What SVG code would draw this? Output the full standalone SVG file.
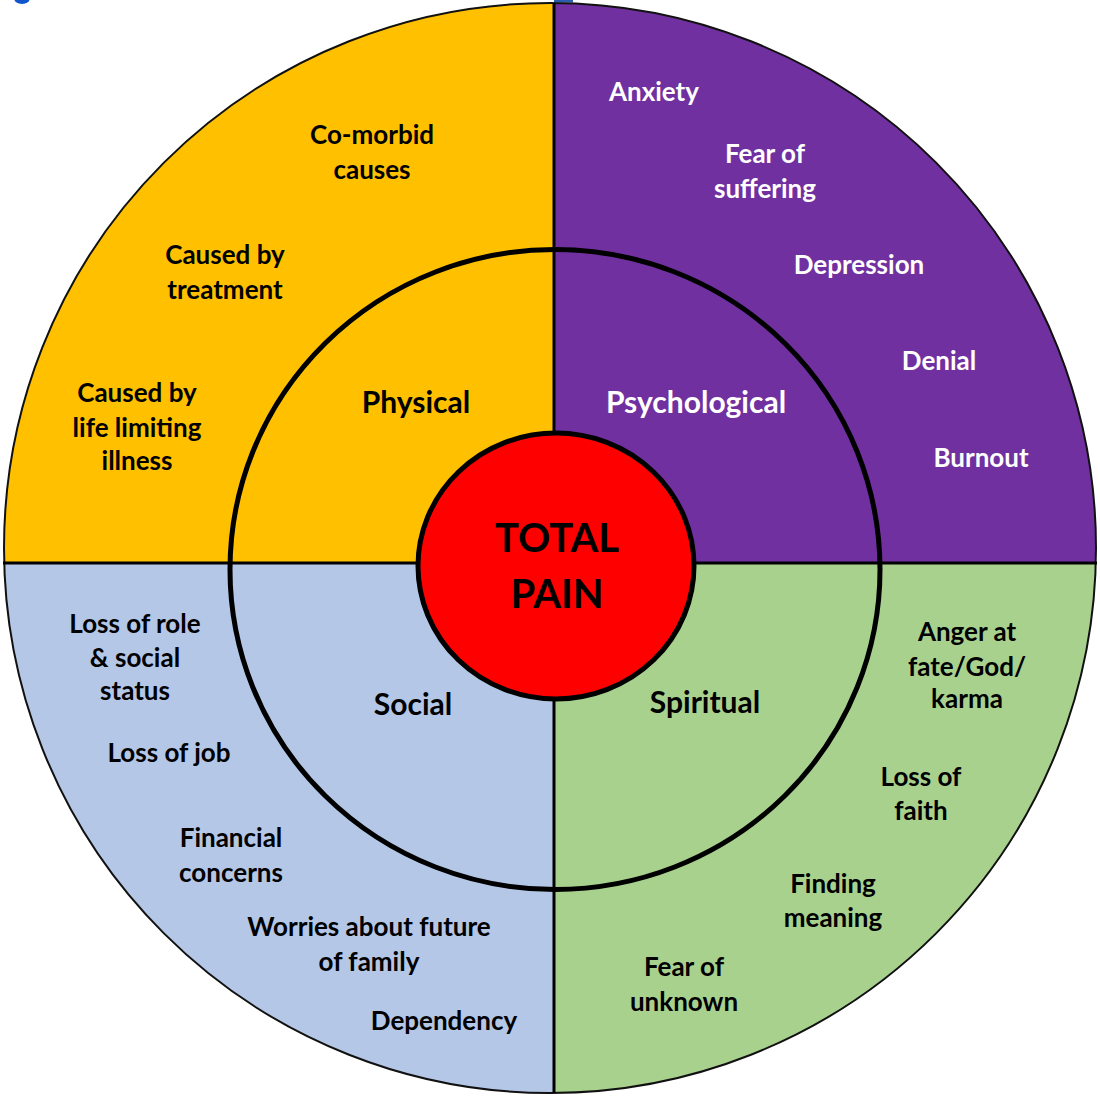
<svg xmlns="http://www.w3.org/2000/svg" width="1100" height="1096" viewBox="0 0 1100 1096">
<style>
.t{font-family:Lato,"Open Sans","Liberation Sans",sans-serif;font-weight:700;font-size:26px;text-anchor:middle;fill:#000}
.w{fill:#fff}
.h{font-size:30px}
.c{font-size:40px}
</style>
<defs>
<clipPath id="outer"><ellipse cx="550" cy="548" rx="546" ry="545"/></clipPath>
</defs>
<rect width="1100" height="1096" fill="#fff"/>
<ellipse cx="22" cy="-2" rx="8" ry="6" fill="#1155cc"/>
<rect x="554" y="0" width="19" height="2.5" fill="#2a5db0"/>
<g id="quadrants" clip-path="url(#outer)">
<rect x="0" y="0" width="554" height="563" fill="#FFC000"/>
<rect x="554" y="0" width="546" height="563" fill="#7030A0"/>
<rect x="0" y="563" width="554" height="533" fill="#B4C7E7"/>
<rect x="554" y="563" width="546" height="533" fill="#A9D18E"/>
</g>
<ellipse cx="550" cy="548" rx="546" ry="545" fill="none" stroke="#111" stroke-width="2"/>
<g id="connectors" stroke="#000" stroke-width="3">
<line x1="3" y1="563" x2="1097" y2="563"/>
<line x1="554" y1="3" x2="554" y2="1093"/>
</g>
<g id="ring">
<ellipse cx="555" cy="569.5" rx="325" ry="320" fill="none" stroke="#000" stroke-width="5"/>
</g>
<g id="physical">
<text class="t h" x="416" y="413">Physical</text>
<text class="t" x="372" y="144">Co-morbid</text>
<text class="t" x="372" y="179">causes</text>
<text class="t" x="225" y="264">Caused by</text>
<text class="t" x="225" y="299">treatment</text>
<text class="t" x="137" y="402">Caused by</text>
<text class="t" x="137" y="437">life limiting</text>
<text class="t" x="137" y="470">illness</text>
</g>
<g id="psychological">
<text class="t h w" x="696" y="413">Psychological</text>
<text class="t w" x="654" y="101">Anxiety</text>
<text class="t w" x="765" y="163">Fear of</text>
<text class="t w" x="765" y="198">suffering</text>
<text class="t w" x="859" y="274">Depression</text>
<text class="t w" x="939" y="370">Denial</text>
<text class="t w" x="981" y="467">Burnout</text>
</g>
<g id="social">
<text class="t h" x="413" y="715">Social</text>
<text class="t" x="135" y="633">Loss of role</text>
<text class="t" x="135" y="667">&amp; social</text>
<text class="t" x="135" y="700">status</text>
<text class="t" x="169" y="762">Loss of job</text>
<text class="t" x="231" y="847">Financial</text>
<text class="t" x="231" y="882">concerns</text>
<text class="t" x="369" y="936">Worries about future</text>
<text class="t" x="369" y="971">of family</text>
<text class="t" x="444" y="1030">Dependency</text>
</g>
<g id="spiritual">
<text class="t h" x="705" y="713">Spiritual</text>
<text class="t" x="967" y="641">Anger at</text>
<text class="t" x="967" y="676">fate/God/</text>
<text class="t" x="967" y="708">karma</text>
<text class="t" x="921" y="786">Loss of</text>
<text class="t" x="921" y="820">faith</text>
<text class="t" x="833" y="893">Finding</text>
<text class="t" x="833" y="927">meaning</text>
<text class="t" x="684" y="976">Fear of</text>
<text class="t" x="684" y="1011">unknown</text>
</g>
<g id="total-pain">
<ellipse cx="556" cy="566" rx="138" ry="133" fill="#FF0000" stroke="#000" stroke-width="5"/>
<text class="t c" x="557" y="552">TOTAL</text>
<text class="t c" x="557" y="608">PAIN</text>
</g>
</svg>
